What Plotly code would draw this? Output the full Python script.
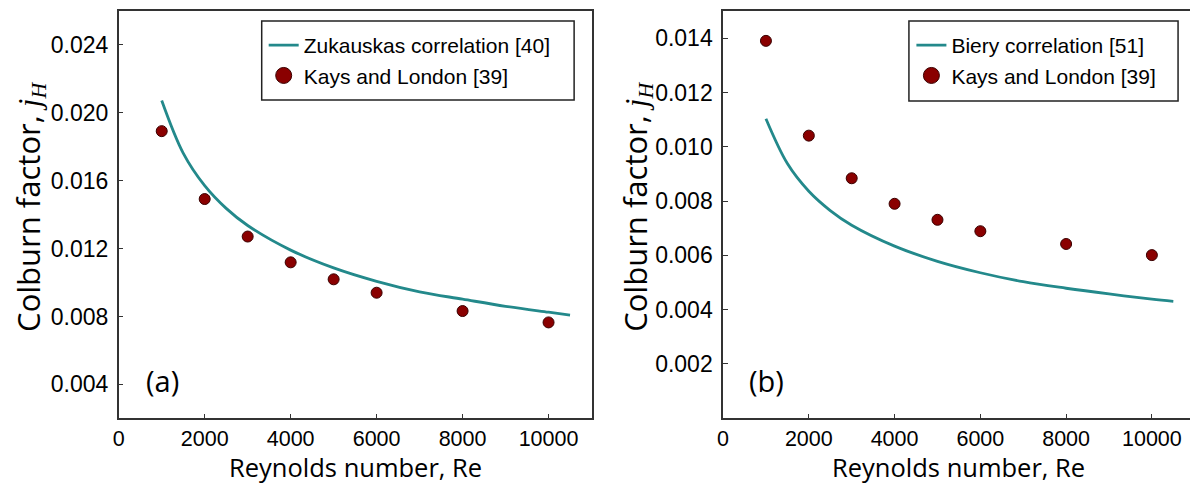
import plotly.graph_objects as go

W, H = 1190, 485

# ---- data ----
re_points = [1000, 2000, 3000, 4000, 5000, 6000, 8000, 10000]
kays_a = [0.01892, 0.01492, 0.01271, 0.01119, 0.01019, 0.00940, 0.00832, 0.00765]
kays_b = [0.01390, 0.01041, 0.00884, 0.00790, 0.00731, 0.00689, 0.00642, 0.00601]

re_curve = [1000, 1500, 2000, 2500, 3000, 4000, 5000, 6000, 7000, 8000, 9000, 10000, 10500]
zukauskas = [0.02073, 0.01763, 0.01571, 0.01437, 0.01336, 0.01191, 0.01086, 0.01007,
             0.00945, 0.00902, 0.00860, 0.00825, 0.00808]
biery = [0.01103, 0.00938, 0.00836, 0.00765, 0.00711, 0.00634, 0.00578, 0.00536,
         0.00503, 0.00479, 0.00458, 0.00439, 0.00431]

x_ticks = [0, 2000, 4000, 6000, 8000, 10000]
ya_ticks = [0.004, 0.008, 0.012, 0.016, 0.020, 0.024]
ya_labels = ["0.004", "0.008", "0.012", "0.016", "0.020", "0.024"]
yb_ticks = [0.002, 0.004, 0.006, 0.008, 0.010, 0.012, 0.014]
yb_labels = ["0.002", "0.004", "0.006", "0.008", "0.010", "0.012", "0.014"]

TEAL = "#23898b"
RED = "#8a0000"
EDGE = "#3a0000"
YTICKFONT = dict(family="Liberation Sans, Arial, sans-serif", size=23, color="black")
XTICKFONT = dict(family="Liberation Sans, Arial, sans-serif", size=21.5, color="black")
LEGFONT = dict(family="Liberation Sans, Arial, sans-serif", size=21, color="black")
XTITLEFONT = dict(family="Open Sans, sans-serif", size=25.5, color="black")
YTITLEFONT = dict(family="Open Sans, sans-serif", size=31, color="black")


def px(x):
    return x / W


def py(y):
    return 1 - y / H


fig = go.Figure()

# panel (a)
fig.add_trace(go.Scatter(x=re_curve, y=zukauskas, mode="lines", line=dict(color=TEAL, width=2.8, shape="spline"),
                         xaxis="x", yaxis="y", showlegend=False))
fig.add_trace(go.Scatter(x=re_points, y=kays_a, mode="markers",
                         marker=dict(color=RED, size=11, line=dict(color=EDGE, width=1)),
                         xaxis="x", yaxis="y", showlegend=False))
fig.add_trace(go.Scatter(x=[None], y=[None], mode="lines", line=dict(color=TEAL, width=2.8),
                         name="Zukauskas correlation [40]", legend="legend", legendgroup="a1",
                         xaxis="x", yaxis="y"))
fig.add_trace(go.Scatter(x=[None], y=[None], mode="markers",
                         marker=dict(color=RED, size=16, line=dict(color=EDGE, width=1)),
                         name="Kays and London [39]", legend="legend", legendgroup="a2",
                         xaxis="x", yaxis="y"))

# panel (b)
fig.add_trace(go.Scatter(x=re_curve, y=biery, mode="lines", line=dict(color=TEAL, width=2.8, shape="spline"),
                         xaxis="x2", yaxis="y2", showlegend=False))
fig.add_trace(go.Scatter(x=re_points, y=kays_b, mode="markers",
                         marker=dict(color=RED, size=11, line=dict(color=EDGE, width=1)),
                         xaxis="x2", yaxis="y2", showlegend=False))
fig.add_trace(go.Scatter(x=[None], y=[None], mode="lines", line=dict(color=TEAL, width=2.8),
                         name="Biery correlation [51]", legend="legend2", legendgroup="b1",
                         xaxis="x2", yaxis="y2"))
fig.add_trace(go.Scatter(x=[None], y=[None], mode="markers",
                         marker=dict(color=RED, size=16, line=dict(color=EDGE, width=1)),
                         name="Kays and London [39]", legend="legend2", legendgroup="b2",
                         xaxis="x2", yaxis="y2"))

axis_common = dict(showgrid=False, zeroline=False, showline=True, linecolor="#333333", linewidth=1.5,
                   ticks="inside", ticklen=5, tickcolor="#333333", tickwidth=1)

fig.update_layout(
    width=W, height=H, margin=dict(l=0, r=0, t=0, b=0),
    paper_bgcolor="white", plot_bgcolor="white",
    xaxis=dict(domain=[px(113.3), px(588.5)], range=[0, 11000], tickvals=x_ticks,
               ticktext=[str(v) for v in x_ticks], mirror=True, anchor="y", tickfont=XTICKFONT,
               **axis_common),
    yaxis=dict(domain=[py(418.3), py(11)], range=[0.002, 0.026], tickvals=ya_ticks,
               ticktext=ya_labels, mirror=True, anchor="x", ticklabelstandoff=4, tickfont=YTICKFONT,
               **axis_common),
    xaxis2=dict(domain=[px(720.7), 1.0], range=[0, 10889], tickvals=x_ticks,
                ticktext=[str(v) for v in x_ticks], mirror=True, anchor="y2", tickfont=XTICKFONT,
                **axis_common),
    yaxis2=dict(domain=[py(418.3), py(11)], range=[0.0, 0.015], tickvals=yb_ticks,
                ticktext=yb_labels, mirror=False, anchor="x2", ticklabelstandoff=4, tickfont=YTICKFONT,
                **axis_common),
    legend=dict(x=px(259), y=py(25), xanchor="left", yanchor="top", bgcolor="rgba(0,0,0,0)",
                borderwidth=0, font=LEGFONT, tracegroupgap=0),
    legend2=dict(x=px(910), y=py(25), xanchor="left", yanchor="top", bgcolor="rgba(0,0,0,0)",
                 borderwidth=0, font=LEGFONT, tracegroupgap=0),
    shapes=[
        dict(type="rect", xref="paper", yref="paper", x0=px(257), x1=px(571), y0=py(100), y1=py(21),
             line=dict(color="#222222", width=1.5), fillcolor="rgba(0,0,0,0)"),
        dict(type="rect", xref="paper", yref="paper", x0=px(907.5), x1=px(1178), y0=py(101), y1=py(21),
             line=dict(color="#222222", width=1.5), fillcolor="rgba(0,0,0,0)"),
    ],
)

ytitle = ("Colburn factor, <span style=\"font-family:'Liberation Serif';font-style:italic\">j</span>"
          "<sub><span style=\"font-family:'Liberation Serif';font-style:italic\">H</span></sub>")
annotations = [
    dict(text="Reynolds number, Re", x=px(350.9), y=py(485), xref="paper", yref="paper",
         showarrow=False, font=XTITLEFONT, xanchor="center", yanchor="bottom", borderpad=0),
    dict(text="Reynolds number, Re", x=px(957), y=py(485), xref="paper", yref="paper",
         showarrow=False, font=XTITLEFONT, xanchor="center", yanchor="bottom", borderpad=0),
    dict(text=ytitle, x=px(23), y=py(207), xref="paper", yref="paper", textangle=-90,
         showarrow=False, font=YTITLEFONT, xanchor="center", yanchor="middle"),
    dict(text=ytitle, x=px(633), y=py(207), xref="paper", yref="paper", textangle=-90,
         showarrow=False, font=YTITLEFONT, xanchor="center", yanchor="middle"),
    dict(text="(a)", x=px(157), y=py(380), xref="paper", yref="paper",
         showarrow=False, font=dict(family="Open Sans, sans-serif", size=29, color="black"),
         xanchor="center", yanchor="middle"),
    dict(text="(b)", x=px(764), y=py(380), xref="paper", yref="paper",
         showarrow=False, font=dict(family="Open Sans, sans-serif", size=29, color="black"),
         xanchor="center", yanchor="middle"),
]
fig.update_layout(annotations=annotations)

fig.write_html("out.html")
